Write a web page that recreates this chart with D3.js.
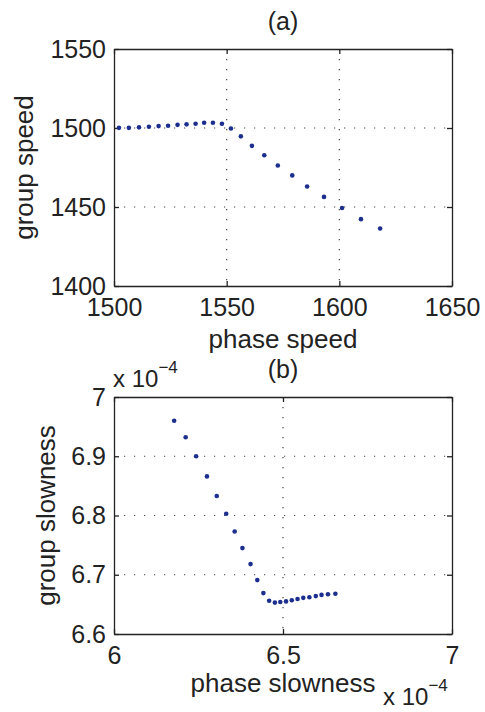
<!DOCTYPE html>
<html><head><meta charset="utf-8">
<script src="https://cdn.jsdelivr.net/npm/d3@7"></script>
<style>
body{margin:0;background:#fff;}
text{font-family:"Liberation Sans",Arial,Helvetica,sans-serif;fill:#222;}
</style></head>
<body>
<svg id="c" width="485" height="712"></svg>
<script>
// Panel (a)
const phaseSpeed = [1502.2,1506.6,1511.1,1515.5,1519.8,1524.0,1528.2,1532.2,1536.2,1540.0,1543.9,1547.9,1551.9,1556.3,1561.2,1566.7,1572.7,1579.1,1585.7,1593.2,1601.2,1609.6,1618.1];
const groupSpeed = [1500.1,1500.1,1500.4,1500.8,1501.2,1501.4,1502.0,1502.3,1502.7,1503.3,1503.3,1502.7,1499.7,1494.7,1488.7,1482.8,1476.3,1470.0,1463.0,1456.4,1449.4,1442.3,1436.4];
const xTicksA = [1500,1550,1600,1650];
const yTicksA = [1400,1450,1500,1550];
// Panel (b) (units of 1e-4)
const phaseSlowness = [6.178,6.212,6.243,6.275,6.304,6.332,6.357,6.380,6.404,6.424,6.442,6.459,6.476,6.492,6.509,6.526,6.543,6.560,6.578,6.597,6.614,6.633,6.655];
const groupSlowness = [6.960,6.932,6.900,6.866,6.833,6.803,6.773,6.745,6.718,6.691,6.669,6.656,6.653,6.654,6.655,6.657,6.659,6.661,6.662,6.664,6.666,6.667,6.668];
const xTicksB = [6,6.5,7];
const yTicksB = [6.6,6.7,6.8,6.9,7];

const svg = d3.select("#c");
const FS = 25;

function panel(o){
  const g = svg.append("g");
  const x = d3.scaleLinear().domain(o.xd).range([o.x0,o.x1]);
  const y = d3.scaleLinear().domain(o.yd).range([o.y1,o.y0]);
  // grid
  const grid = g.append("g").attr("stroke","#444").attr("stroke-width",1.2).attr("stroke-dasharray","1.2,8.8");
  o.xt.slice(1,-1).forEach(v=>grid.append("line").attr("x1",x(v)).attr("x2",x(v)).attr("y1",o.y0).attr("y2",o.y1));
  o.yt.slice(1,-1).forEach(v=>grid.append("line").attr("x1",o.x0).attr("x2",o.x1).attr("y1",y(v)).attr("y2",y(v)));
  // axes
  const fmt = o.fmt;
  const ab = g.append("g").attr("transform",`translate(0,${o.y1})`)
    .call(d3.axisBottom(x).tickValues(o.xt).tickSizeInner(-5).tickSizeOuter(0).tickPadding(12).tickFormat(fmt));
  const al = g.append("g").attr("transform",`translate(${o.x0},0)`)
    .call(d3.axisLeft(y).tickValues(o.yt).tickSizeInner(-5).tickSizeOuter(0).tickPadding(8).tickFormat(fmt));
  const at = g.append("g").attr("transform",`translate(0,${o.y0})`)
    .call(d3.axisTop(x).tickValues(o.xt).tickSizeInner(-5).tickSizeOuter(0).tickFormat(""));
  const ar = g.append("g").attr("transform",`translate(${o.x1},0)`)
    .call(d3.axisRight(y).tickValues(o.yt).tickSizeInner(-5).tickSizeOuter(0).tickFormat(""));
  [ab,al,at,ar].forEach(a=>{
    a.selectAll("path,line").attr("stroke","#222").attr("stroke-width",1.3);
    a.selectAll("text").attr("font-size",FS).attr("font-family","Liberation Sans, Arial, sans-serif").attr("fill","#222");
  });
  // points
  g.append("g").selectAll("circle").data(o.xs.map((v,i)=>[v,o.ys[i]])).join("circle")
    .attr("cx",d=>x(d[0])).attr("cy",d=>y(d[1])).attr("r",2.3).attr("fill","#1c2f8f");
  // labels
  g.append("text").attr("x",(o.x0+o.x1)/2).attr("y",o.titleY).attr("text-anchor","middle").attr("font-size",FS).text(o.title);
  g.append("text").attr("x",(o.x0+o.x1)/2).attr("y",o.xlabY).attr("text-anchor","middle").attr("font-size",FS+1).text(o.xlab);
  g.append("text").attr("transform",`translate(${o.ylabX},${(o.y0+o.y1)/2}) rotate(-90)`).attr("text-anchor","middle").attr("font-size",FS+1).text(o.ylab);
  return {x,y};
}

panel({x0:114,x1:452,y0:49,y1:286,xd:[1500,1650],yd:[1400,1550],xt:xTicksA,yt:yTicksA,
  xs:phaseSpeed,ys:groupSpeed,fmt:d3.format("d"),title:"(a)",titleY:30,xlab:"phase speed",xlabY:348,ylab:"group speed",ylabX:33});
panel({x0:114,x1:452,y0:397,y1:634,xd:[6,7],yd:[6.6,7],xt:xTicksB,yt:yTicksB,
  xs:phaseSlowness,ys:groupSlowness,fmt:d=>d3.format("~g")(d),title:"(b)",titleY:378,xlab:"phase slowness",xlabY:692,ylab:"group slowness",ylabX:55});

function mult(xp,yp){
  const t = svg.append("text").attr("x",xp).attr("y",yp).attr("font-size",24);
  t.append("tspan").text("x 10");
  t.append("tspan").attr("dy",-14).attr("font-size",17).text("\u22124");
}
mult(113,387);
mult(383,705);
</script>
</body></html>
